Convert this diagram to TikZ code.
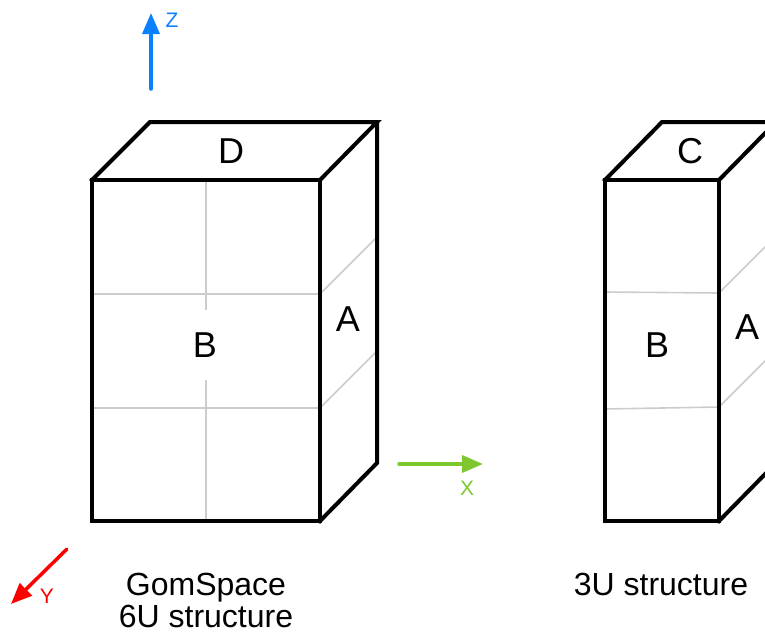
\documentclass[tikz,border=0pt]{standalone}
\usepackage{fontspec}
\setmainfont{Liberation Sans}
\usetikzlibrary{arrows.meta}
\definecolor{zblue}{RGB}{10,128,255}
\definecolor{xgreen}{RGB}{125,200,47}
\definecolor{yred}{RGB}{255,0,0}
\definecolor{seam}{RGB}{204,204,204}
\tikzset{
    edge/.style={line width=4pt, line join=miter, line cap=rect},
    seamline/.style={draw=seam, line width=1.6pt},
    axis/.style={line width=3.5pt, line cap=round, -{Triangle[length=21pt,width=17pt]}},
    face/.style={font=\fontsize{36}{40}\selectfont, inner sep=0pt},
    axislabel/.style={font=\fontsize{21}{24}\selectfont, inner sep=0pt},
    caption/.style={font=\fontsize{32}{35}\selectfont, inner sep=0pt, anchor=base}
}
\begin{document}
\begin{tikzpicture}[x=1pt, y=-1pt]
        \useasboundingbox (0, 0) rectangle (765, 632);
        \clip (0, 0) rectangle (765, 632);
        % Corners of the 6U box
        \coordinate (sixFTL) at (92, 180);
        \coordinate (sixFBL) at (92, 521);
        \coordinate (sixFBR) at (320, 521);
        \coordinate (sixFTR) at (320, 180);
        \coordinate (sixBTL) at (150, 122);
        \coordinate (sixBTR) at (377, 122);
        \coordinate (sixBBR) at (377, 463);
        % Seams of the 6U box
        \draw [seamline] (206, 180) -- (206, 310);
        \draw [seamline] (206, 380) -- (206, 521);
        \draw [seamline] (92, 294) -- (320, 294) -- (377, 237);
        \draw [seamline] (92, 408) -- (320, 408) -- (377, 351);
        % Draw the 6U box
        \draw [edge] (sixFTL) -- (sixFBL) -- (sixFBR) -- (sixFTR) -- cycle;
        \draw [edge] (sixFTL) -- (sixBTL) -- (sixBTR) -- (sixFTR);
        \draw [edge] (sixBTR) -- (sixBBR) -- (sixFBR);
        % Faces
        \node [face] (sixD) at (231, 151) {D};
        \node [face] (sixB) at (205, 345) {B};
        \node [face] (sixA) at (348, 319) {A};
        % Corners of the 3U box
        \coordinate (thrFTL) at (605, 180);
        \coordinate (thrFBL) at (605, 521);
        \coordinate (thrFBR) at (719, 521);
        \coordinate (thrFTR) at (719, 180);
        \coordinate (thrBTL) at (662, 122);
        \coordinate (thrBTR) at (776, 122);
        \coordinate (thrBBR) at (776, 463);
        % Seams of the 3U box
        \draw [seamline] (605, 292) -- (719, 293) -- (776, 236);
        \draw [seamline] (605, 409) -- (719, 407) -- (776, 350);
        % Draw the 3U box
        \draw [edge] (thrFTL) -- (thrFBL) -- (thrFBR) -- (thrFTR) -- cycle;
        \draw [edge] (thrFTL) -- (thrBTL) -- (thrBTR) -- (thrFTR);
        \draw [edge] (thrBTR) -- (thrBBR) -- (thrFBR);
        % Faces
        \node [face] (thrC) at (690, 151) {C};
        \node [face] (thrB) at (657, 345) {B};
        \node [face] (thrA) at (747, 327) {A};
        % Axes
        \coordinate (zFrom) at (151, 89);
        \coordinate (zTo) at (151, 13);
        \coordinate (xFrom) at (399, 464);
        \coordinate (xTo) at (483, 464);
        \coordinate (yFrom) at (67, 549);
        \coordinate (yTo) at (11, 604);
        \draw [axis, zblue] (zFrom) -- (zTo);
        \draw [axis, xgreen] (xFrom) -- (xTo);
        \draw [axis, yred] (yFrom) -- (yTo);
        \node [axislabel, text=zblue] (zLabel) at (172, 20) {Z};
        \node [axislabel, text=xgreen] (xLabel) at (467, 488) {X};
        \node [axislabel, text=yred] (yLabel) at (47, 596) {Y};
        % Captions
        \node [caption] (gomName) at (206, 595) {GomSpace};
        \node [caption] (gomSize) at (206, 627) {6U structure};
        \node [caption] (thrName) at (661, 595) {3U structure};
    \end{tikzpicture}
\end{document}
